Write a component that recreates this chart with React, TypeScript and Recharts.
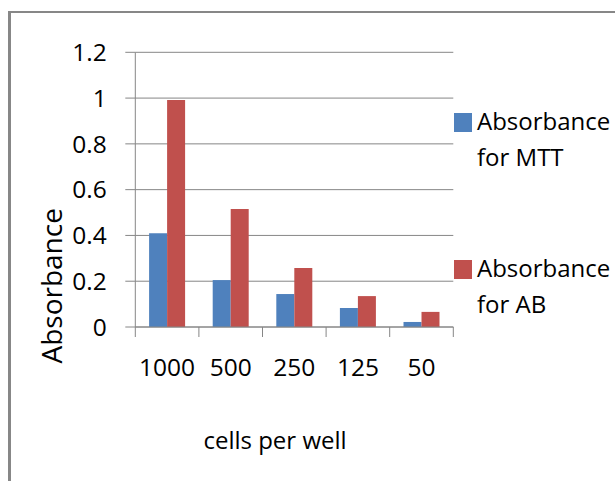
import { BarChart, Bar, XAxis, YAxis, CartesianGrid } from "recharts";

const cellsPerWell = ["1000", "500", "250", "125", "50"];
const mttAbsorbance = [0.41, 0.205, 0.144, 0.083, 0.022];
const abAbsorbance = [0.992, 0.516, 0.258, 0.135, 0.066];
const yTicks = [0, 0.2, 0.4, 0.6, 0.8, 1, 1.2];
const seriesLabels = [
  ["Absorbance", "for MTT"],
  ["Absorbance", "for AB"],
];

const FONT = "'Open Sans', 'Noto Sans', sans-serif";
const GRID = "#868686";
const BLUE = "#4F81BD";
const RED = "#C0504D";

const data = cellsPerWell.map((c, i) => ({
  cells: c,
  mtt: mttAbsorbance[i],
  ab: abAbsorbance[i],
}));

function CategoryTick(props: any) {
  const { x, y, payload, index, visibleTicksCount } = props;
  const off = payload?.offset ?? 31.8;
  const last = index === (visibleTicksCount ?? cellsPerWell.length) - 1;
  return (
    <g>
      <line x1={x - off} x2={x - off} y1={y - 10} y2={y} stroke={GRID} strokeWidth={1} />
      {last && (
        <line x1={x + off} x2={x + off} y1={y - 10} y2={y} stroke={GRID} strokeWidth={1} />
      )}
      <text x={x} y={y + 39} textAnchor="middle" fill="#000" fontSize={24.5} fontFamily={FONT}>
        {payload.value}
      </text>
    </g>
  );
}

function LegendBox() {
  const items = [
    { color: BLUE, lines: seriesLabels[0], top: 0 },
    { color: RED, lines: seriesLabels[1], top: 147 },
  ];
  return (
    <div style={{ position: "absolute", left: 454, top: 103, width: 161, height: 220 }}>
      {items.map((it) => (
        <div key={it.lines[1]} style={{ position: "absolute", left: 0, top: it.top }}>
          <div
            style={{
              position: "absolute",
              left: 0,
              top: 10,
              width: 18,
              height: 19,
              background: it.color,
            }}
          />
          <div
            style={{
              position: "absolute",
              left: 23,
              top: 0,
              fontFamily: FONT,
              fontSize: 24,
              lineHeight: "36px",
              color: "#000",
              whiteSpace: "nowrap",
            }}
          >
            {it.lines[0]}
            <br />
            {it.lines[1]}
          </div>
        </div>
      ))}
    </div>
  );
}

export default function App() {
  return (
    <div
      style={{
        position: "absolute",
        left: 0,
        top: 0,
        width: 615,
        height: 481,
        background: "#fff",
        overflow: "hidden",
      }}
    >
      <div
        style={{
          position: "absolute",
          left: 8,
          top: 11,
          width: 700,
          height: 600,
          borderLeft: "3px solid #878787",
          borderTop: "2px solid #878787",
        }}
      />
      <div style={{ position: "absolute", left: 0, top: 0 }}>
        <BarChart
          width={615}
          height={481}
          data={data}
          margin={{ top: 52.3, right: 161.7, left: 0, bottom: 94 }}
          barCategoryGap="21.7%"
          barGap={0}
        >
          <CartesianGrid vertical={false} stroke={GRID} strokeWidth={1} />
          <XAxis
            dataKey="cells"
            height={60}
            stroke={GRID}
            tickLine={false}
            tickSize={10}
            tickMargin={0}
            tick={<CategoryTick />}
            interval={0}
          />
          <YAxis
            width={135.3}
            domain={[0, 1.2]}
            ticks={yTicks}
            stroke={GRID}
            tickSize={10}
            tickMargin={18.6}
            tick={{ fill: "#000", fontSize: 24.5, fontFamily: FONT }}
            tickLine={{ stroke: GRID }}
            label={() => (
              <text
                x={61.7}
                y={285.8}
                transform="rotate(-90 61.7 285.8)"
                textAnchor="middle"
                fontSize={28}
                fontFamily={FONT}
                fill="#000"
              >
                Absorbance
              </text>
            )}
          />
          <Bar dataKey="mtt" name="Absorbance for MTT" fill={BLUE} isAnimationActive={false} />
          <Bar dataKey="ab" name="Absorbance for AB" fill={RED} isAnimationActive={false} />
        </BarChart>
      </div>
      <LegendBox />
      <div
        style={{
          position: "absolute",
          left: 175,
          top: 423,
          width: 200,
          textAlign: "center",
          fontFamily: FONT,
          fontSize: 24,
          color: "#000",
          whiteSpace: "nowrap",
        }}
      >
        cells per well
      </div>
    </div>
  );
}
